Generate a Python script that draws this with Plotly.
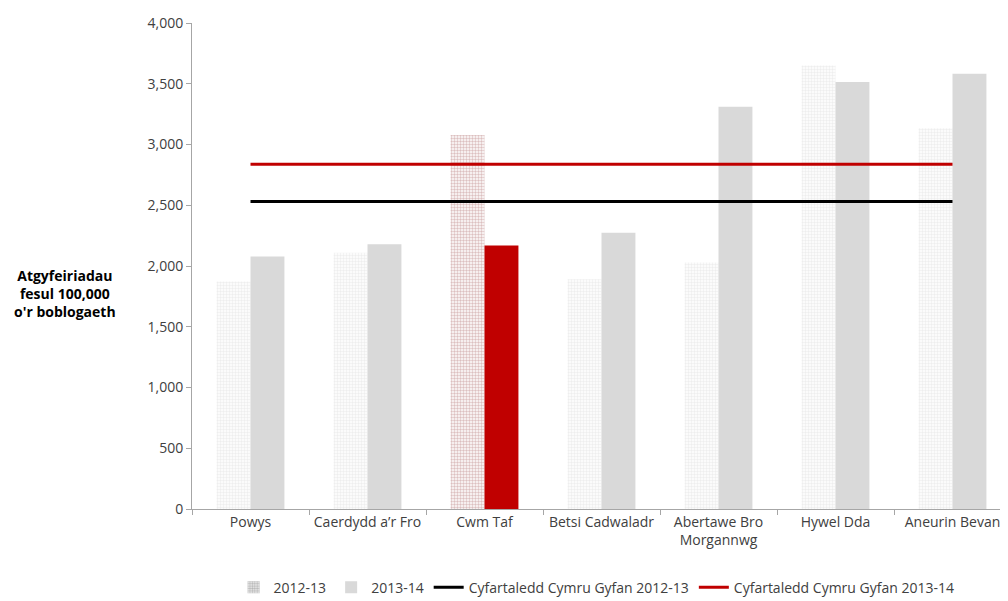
import plotly.graph_objects as go

categories = ["Powys", "Caerdydd a\u2019r Fro", "Cwm Taf", "Betsi Cadwaladr",
              "Abertawe Bro<br>Morgannwg", "Hywel Dda", "Aneurin Bevan"]
vals_2012 = [1873, 2110, 3078, 1890, 2029, 3651, 3133]
vals_2013 = [2078, 2178, 2168, 2274, 3310, 3515, 3583]
avg_2012 = 2530
avg_2013 = 2838
highlight = "Cwm Taf"

font_fam = "Open Sans, Liberation Sans, sans-serif"

fg12 = ["#8b3a3a" if c == highlight else "#b4b4b4" for c in categories]
bg12 = ["#dcc0c0" if c == highlight else "#eeeeee" for c in categories]
col13 = ["#c00000" if c == highlight else "#d9d9d9" for c in categories]

fig = go.Figure()
fig.add_trace(go.Bar(
    x=categories, y=vals_2012, name="2012-13",
    marker=dict(color=bg12, line=dict(width=0),
                pattern=dict(shape=".", fgcolor=fg12, bgcolor=bg12,
                             size=3, solidity=0.5, fillmode="replace")),
))
fig.add_trace(go.Bar(
    x=categories, y=vals_2013, name="2013-14",
    marker=dict(color=col13, line=dict(width=0)),
))
fig.add_trace(go.Scatter(
    x=categories, y=[avg_2012] * len(categories), mode="lines",
    name="Cyfartaledd Cymru Gyfan 2012-13",
    line=dict(color="#000000", width=3),
))
fig.add_trace(go.Scatter(
    x=categories, y=[avg_2013] * len(categories), mode="lines",
    name="Cyfartaledd Cymru Gyfan 2013-14",
    line=dict(color="#c00000", width=3),
))

fig.update_layout(
    width=1008, height=601,
    margin=dict(l=184, r=5, t=12, b=100),
    paper_bgcolor="white", plot_bgcolor="white",
    barmode="group", bargap=0.42, bargroupgap=0,
    font=dict(family=font_fam, size=14, color="#404040"),
    showlegend=True,
    legend=dict(orientation="h", x=0.494, xanchor="center", y=-0.162, yanchor="middle",
                font=dict(size=14, color="#404040"), traceorder="normal",
                itemwidth=30),
    xaxis=dict(showline=True, linecolor="#a6a6a6", linewidth=1,
               ticks="outside", tickson="boundaries", ticklen=5, tickcolor="#a6a6a6",
               showgrid=False, tickfont=dict(size=14, color="#404040")),
    yaxis=dict(range=[0, 4000], dtick=500, tickformat=",d",
               showline=True, linecolor="#a6a6a6", linewidth=1,
               ticks="outside", ticklen=5, tickcolor="#a6a6a6",
               showgrid=False, zeroline=False,
               tickfont=dict(size=14, color="#404040")),
    annotations=[dict(text="<b>Atgyfeiriadau<br>fesul 100,000<br>o'r boblogaeth</b>",
                      xref="paper", yref="paper", x=-0.155, y=0.444,
                      xanchor="center", yanchor="middle", showarrow=False,
                      align="center", font=dict(size=14, color="#000000"))],
)

fig.write_html("out.html")
